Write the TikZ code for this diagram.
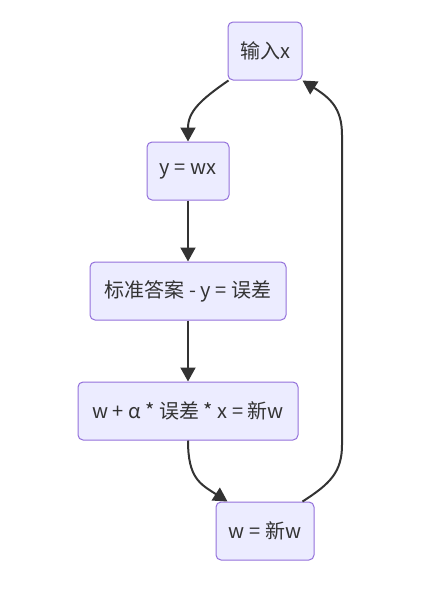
\documentclass[tikz,border=0pt]{standalone}
\usepackage{fontspec}
\setmainfont{Noto Sans CJK SC}
\usetikzlibrary{arrows.meta,calc}
\definecolor{nodefill}{HTML}{ECECFF}
\definecolor{nodeline}{HTML}{9370DB}
\definecolor{edgecol}{HTML}{333333}
\tikzset{
  box/.style={draw=nodeline, fill=nodefill, line width=1pt, rounded corners=5pt,
    minimum height=58pt, inner xsep=0pt, text=edgecol, font=\fontsize{20}{24}\selectfont},
  edge/.style={draw=edgecol, line width=2pt, -{Triangle[length=14pt,width=15pt]}}
}
\begin{document}
\begin{tikzpicture}[x=1pt,y=-1pt]
\useasboundingbox (0,0) rectangle (446,605);
\node[box, minimum width=74pt] (in) at (265,51) {输入x};
\node[box, minimum width=82pt] (yw) at (188,171) {y = wx};
\node[box, minimum width=196pt] (err) at (188,291) {标准答案 - y = 误差};
\node[box, minimum width=220pt] (wa) at (188,411) {w + α * 误差 * x = 新w};
\node[box, minimum width=98pt] (nw) at (265,531) {w = 新w};
\coordinate (a1) at ($(nw.north west)+(12,0)$);
\coordinate (a2) at ($(nw.north east)+(-12,0)$);
\coordinate (b1) at ($(in.south west)+(1,0)$);
\coordinate (b2) at ($(in.south east)+(0,0)$);
\draw[edge] (b1) .. controls (200,100) and (188,112) .. (yw.north);
\draw[edge] (yw) -- (err);
\draw[edge] (err) -- (wa);
\draw[edge] (wa.south) .. controls (188,478) and (200,484) .. (a1);
\draw[edge] (a2) .. controls (330,484) and (342,472) .. (342,445) -- (342,135) .. controls (342,108) and (330,98) .. (b2);
\end{tikzpicture}
\end{document}
